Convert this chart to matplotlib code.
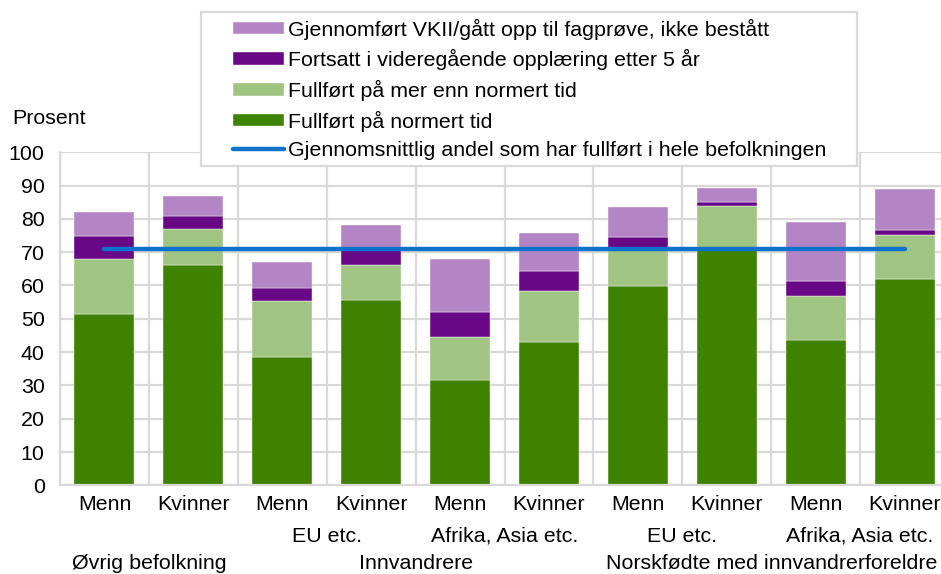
import numpy as np
import matplotlib
matplotlib.use("Agg")
import matplotlib.pyplot as plt
from matplotlib.patches import Rectangle
from matplotlib.transforms import blended_transform_factory

plt.rcParams['font.family'] = ['Liberation Sans', 'DejaVu Sans']

# -------------------------------
# Data (prosent)
# -------------------------------
kjonn = ['Menn', 'Kvinner'] * 5
opprinnelse = ['', 'EU etc.', 'Afrika, Asia etc.', 'EU etc.', 'Afrika, Asia etc.']
grupper = ['Øvrig befolkning', 'Innvandrere', 'Norskfødte med innvandrerforeldre']

normert = [51.5, 66.2, 38.4, 55.7, 31.5, 43.0, 59.7, 71.0, 43.5, 62.0]
mer_enn_normert = [16.4, 10.8, 16.8, 10.5, 13.0, 15.2, 11.3, 13.0, 13.2, 13.1]
fortsatt = [7.1, 4.0, 4.1, 4.8, 7.6, 6.2, 3.6, 1.2, 4.7, 1.5]
ikke_bestatt = [7.2, 6.0, 7.9, 7.1, 15.9, 11.5, 9.1, 4.2, 17.6, 12.5]
snitt_hele = 71.1

serier = [
    ('Fullført på normert tid', normert, '#3f8200'),
    ('Fullført på mer enn normert tid', mer_enn_normert, '#a0c482'),
    ('Fortsatt i videregående opplæring etter 5 år', fortsatt, '#690887'),
    ('Gjennomført VKII/gått opp til fagprøve, ikke bestått', ikke_bestatt, '#b385c4'),
]

FS = 15.4

# -------------------------------
# Figure
# -------------------------------
W, H = 941, 574
fig = plt.figure(figsize=(W / 100, H / 100), dpi=100)
ax = fig.add_axes([60 / W, 88.7 / H, 889 / W, 333 / H])

x = np.arange(len(kjonn))
bunn = np.zeros(len(kjonn))
handles = []
for navn, verdier, farge in serier:
    b = ax.bar(x, verdier, bottom=bunn, width=0.675, color=farge,
               edgecolor='white', linewidth=0.3, label=navn, zorder=2)
    handles.append(b)
    bunn += np.array(verdier)

linje, = ax.plot([x[0], x[-1]], [snitt_hele, snitt_hele], color='#0c72cc',
                 lw=3.2, solid_capstyle='round', zorder=3,
                 label='Gjennomsnittlig andel som har fullført i hele befolkningen')

ax.set_xlim(-0.5, len(kjonn) - 0.5)
ax.set_ylim(0, 100)
ax.set_yticks(range(0, 101, 10))
ax.set_xticks(np.arange(-0.5, len(kjonn), 1.0), minor=True)
ax.set_xticks([])
ax.grid(axis='y', color='#d9d9d9', lw=1.6, zorder=0)
ax.grid(axis='x', which='minor', color='#d9d9d9', lw=1.6, zorder=0)
for s in ['top', 'right']:
    ax.spines[s].set_visible(False)
for s in ['left', 'bottom']:
    ax.spines[s].set_color('#d9d9d9')
    ax.spines[s].set_linewidth(1.6)
ax.tick_params(axis='y', length=0, pad=11, labelsize=FS, colors='black')
ax.tick_params(axis='x', which='both', length=0)

# X labels in three rows (baseline placement)
tr = blended_transform_factory(ax.transData, ax.transAxes)
for i, k in enumerate(kjonn):
    ax.text(i, -0.074, k, transform=tr, ha='center', va='baseline', fontsize=FS)
for j, o in enumerate(opprinnelse):
    if o:
        ax.text(2 * j + 0.5, -0.169, o, transform=tr, ha='center', va='baseline', fontsize=FS)
ax.text(0.5, -0.251, grupper[0], transform=tr, ha='center', va='baseline', fontsize=FS)
ax.text(3.5, -0.251, grupper[1], transform=tr, ha='center', va='baseline', fontsize=FS)
ax.text(7.5, -0.251, grupper[2], transform=tr, ha='center', va='baseline', fontsize=FS)

fig.text(12 / W, 1 - 118 / H, 'Prosent', ha='left', va='center', fontsize=FS)

# Legend box drawn by hand, legend itself without frame
boks = Rectangle((201 / W, 1 - 166 / H), 656 / W, 154 / H, transform=fig.transFigure,
                 facecolor='white', edgecolor='#d9d9d9', lw=1.6, zorder=4)
fig.patches.append(boks)

leg = fig.legend(handles[::-1] + [linje],
                 [h.get_label() for h in handles[::-1]] + [linje.get_label()],
                 loc='upper left', bbox_to_anchor=(232.5 / W, 1 - 18.5 / H),
                 fontsize=FS, frameon=False, handlelength=2.43, handleheight=0.52,
                 handletextpad=0.17, labelspacing=0.45, borderpad=0,
                 borderaxespad=0)
leg.set_zorder(5)

fig.savefig('out.png', dpi=100)
